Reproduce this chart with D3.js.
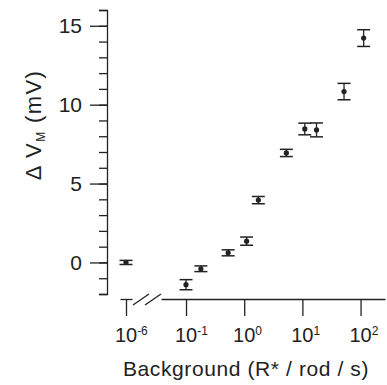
<!DOCTYPE html>
<html>
<head>
<meta charset="UTF-8">
<title>dVm vs background</title>
<script src="https://d3js.org/d3.v7.min.js"></script>
<style>
  body { margin: 0; background: #fff; }
  text { font-family: "Liberation Sans", Arial, sans-serif; fill: #222; }
</style>
</head>
<body>
<div id="chart"></div>
<script>
  // background light (R*/rod/s); first point is the dark control plotted at 10^-6
  const background = [1e-6, 0.1, 0.18, 0.53, 1.1, 1.75, 5.3, 11, 17.5, 52, 113];
  const deltaVm = [0.0, -1.41, -0.4, 0.61, 1.35, 3.95, 6.94, 8.46, 8.4, 10.83, 14.22];
  const sem = [0.13, 0.32, 0.18, 0.19, 0.26, 0.23, 0.23, 0.37, 0.44, 0.52, 0.53];

  const xTicks = [0.1, 1, 10, 100];
  const xTickExp = ["-1", "0", "1", "2"];
  const breakTick = 1e-6;
  const breakExp = "-6";
  const yMajor = [0, 5, 10, 15];

  const W = 387, H = 385;
  const svg = d3.select("#chart").append("svg")
    .attr("width", W).attr("height", H);

  const axisX = 107, axisY = 299;
  const ink = "#222";

  const y = d3.scaleLinear().domain([-2, 16]).range([294, 10]);
  const x = d3.scaleLog().domain([Math.pow(10, -1.43), Math.pow(10, 2.42)]).range([161, 385]);
  const xBreak = d3.scaleLog().domain([Math.pow(10, -6.5), Math.pow(10, -5.5)]).range([120, 132]);
  const xPos = v => v < 1e-3 ? xBreak(v) : x(v);

  // y axis
  const gy = svg.append("g").attr("transform", `translate(${axisX},0)`);
  gy.call(d3.axisLeft(y).tickValues(d3.range(-2, 17)).tickSize(8).tickFormat(""));
  gy.append("g").call(d3.axisLeft(y).tickValues(yMajor).tickSize(17).tickSizeOuter(0).tickFormat(""));
  gy.selectAll("path, line").attr("stroke", ink).attr("stroke-width", 1.3);
  gy.selectAll("g .domain").filter(function() { return this.parentNode !== gy.node(); }).remove();

  gy.selectAll(".ylab").data(yMajor).enter().append("text")
    .attr("x", -25).attr("y", d => y(d)).attr("dy", "0.35em")
    .attr("text-anchor", "end").style("font-size", "21px").style("fill", ink)
    .text(d => d);

  // x axis (main log part)
  const gx = svg.append("g").attr("transform", `translate(0,${axisY})`);
  gx.call(d3.axisBottom(x).tickValues(xTicks).tickSize(17).tickSizeOuter(0).tickFormat(""));
  gx.selectAll("path, line").attr("stroke", ink).attr("stroke-width", 1.3);

  // x axis: broken segment for the control
  const gb = svg.append("g").attr("transform", `translate(0,${axisY})`);
  gb.call(d3.axisBottom(xBreak).tickValues([breakTick]).tickSize(17).tickSizeOuter(0).tickFormat(""));
  gb.selectAll("path, line").attr("stroke", ink).attr("stroke-width", 1.3);
  [0, 12].forEach(off => {
    svg.append("line")
      .attr("x1", xBreak.range()[1] + 1 + off).attr("y1", axisY + 6)
      .attr("x2", xBreak.range()[1] + 17 + off).attr("y2", axisY - 5)
      .attr("stroke", ink).attr("stroke-width", 1.3);
  });

  // tick labels 10^n
  function powLabel(px, exp) {
    const t = svg.append("text").attr("y", 342).style("font-size", "20px").style("fill", ink);
    t.append("tspan").text("10");
    const w = t.node().getComputedTextLength();
    t.attr("x", px - w / 2);
    t.append("tspan").attr("dy", -7).style("font-size", "12px").text(exp);
  }
  powLabel(xBreak(breakTick), breakExp);
  xTicks.forEach((v, i) => powLabel(x(v), xTickExp[i]));

  // axis titles
  svg.append("text")
    .attr("x", 246).attr("y", 376).attr("text-anchor", "middle")
    .style("font-size", "21px").style("letter-spacing", "0.6px").style("fill", ink)
    .text("Background (R* / rod / s)");

  const yt = svg.append("text")
    .attr("transform", `translate(41,125) rotate(-90)`)
    .attr("text-anchor", "middle").style("font-size", "22px")
    .style("letter-spacing", "1.4px").style("fill", ink);
  yt.append("tspan").text("\u0394 V");
  yt.append("tspan").attr("dy", 4).style("font-size", "12px").text("M");
  yt.append("tspan").attr("dy", -4).text(" (mV)");

  // data
  const data = background.map((b, i) => ({ b, v: deltaVm[i], e: sem[i] }));
  const cap = 6.5;
  const pts = svg.append("g");
  pts.selectAll(".eb").data(data).enter().append("line")
    .attr("x1", d => xPos(d.b)).attr("x2", d => xPos(d.b))
    .attr("y1", d => y(d.v - d.e)).attr("y2", d => y(d.v + d.e))
    .attr("stroke", ink).attr("stroke-width", 1.3);
  [-1, 1].forEach(s => {
    pts.selectAll(".cap" + s).data(data).enter().append("line")
      .attr("x1", d => xPos(d.b) - cap).attr("x2", d => xPos(d.b) + cap)
      .attr("y1", d => y(d.v + s * d.e)).attr("y2", d => y(d.v + s * d.e))
      .attr("stroke", ink).attr("stroke-width", 1.5);
  });
  pts.selectAll("circle").data(data).enter().append("circle")
    .attr("cx", d => xPos(d.b)).attr("cy", d => y(d.v)).attr("r", 2.6)
    .attr("fill", ink);
</script>
</body>
</html>
